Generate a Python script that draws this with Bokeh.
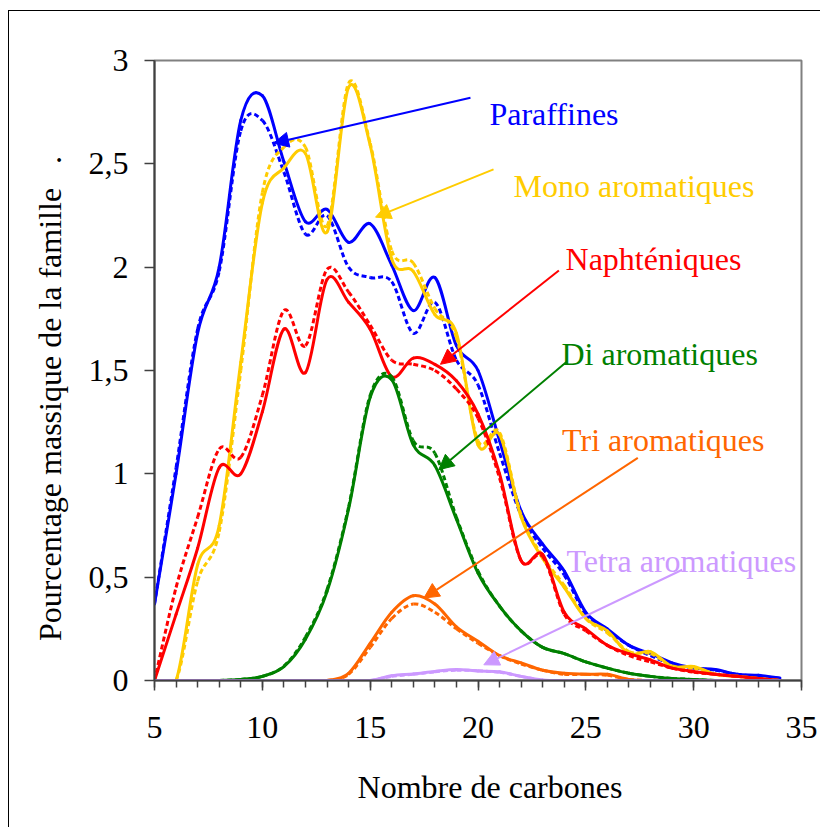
import math
from bokeh.plotting import figure
from bokeh.models import (Range1d, FixedTicker, CustomJSTickFormatter, Label, Arrow,
                          NormalHead, ColumnDataSource)
from bokeh.embed import file_html
from bokeh.resources import INLINE

# ---------------- data ----------------
carbons = list(range(5, 35))

paraffines = [0.37, 1.00, 1.68, 2.00, 2.71, 2.83, 2.51, 2.22, 2.28, 2.12, 2.21, 2.01, 1.79, 1.95, 1.62,
              1.50, 1.16, 0.82, 0.66, 0.53, 0.33, 0.25, 0.17, 0.13, 0.085, 0.06, 0.053, 0.03, 0.025, 0.012]
paraffines_b = [0.37, 1.03, 1.70, 1.98, 2.66, 2.71, 2.46, 2.16, 2.25, 2.00, 1.95, 1.93, 1.68, 1.83, 1.55,
                1.43, 1.10, 0.80, 0.64, 0.51, 0.32, 0.24, 0.17, 0.12, 0.08, 0.06, 0.05, 0.03, 0.02, 0.01]

mono = [0.0, 0.0, 0.56, 0.75, 1.54, 2.31, 2.48, 2.55, 2.17, 2.87, 2.59, 2.04, 1.98, 1.77, 1.68,
        1.14, 1.19, 0.79, 0.59, 0.45, 0.30, 0.24, 0.13, 0.14, 0.068, 0.068, 0.03, 0.02, 0.01, 0.0]
mono_b = [0.0, 0.0, 0.48, 0.72, 1.50, 2.36, 2.58, 2.58, 2.20, 2.89, 2.60, 2.08, 2.02, 1.80, 1.66,
          1.16, 1.20, 0.80, 0.60, 0.46, 0.30, 0.23, 0.14, 0.13, 0.07, 0.06, 0.03, 0.02, 0.01, 0.0]

naphteniques = [0.0, 0.32, 0.64, 1.03, 1.00, 1.30, 1.70, 1.49, 1.94, 1.83, 1.70, 1.47, 1.56, 1.53, 1.45,
                1.29, 1.00, 0.58, 0.61, 0.33, 0.25, 0.17, 0.13, 0.10, 0.06, 0.044, 0.03, 0.02, 0.01, 0.0]
naphteniques_b = [0.0, 0.45, 0.79, 1.12, 1.08, 1.38, 1.79, 1.62, 1.99, 1.88, 1.72, 1.55, 1.53, 1.50, 1.41,
                  1.27, 0.98, 0.58, 0.60, 0.32, 0.24, 0.17, 0.12, 0.09, 0.06, 0.04, 0.03, 0.02, 0.01, 0.0]

di = [0.0, 0.0, 0.0, 0.0, 0.005, 0.02, 0.067, 0.20, 0.43, 0.83, 1.37, 1.455, 1.14, 1.04, 0.78,
      0.52, 0.36, 0.24, 0.16, 0.13, 0.09, 0.06, 0.035, 0.02, 0.01, 0.005, 0.0, 0.0, 0.0, 0.0]
di_b = [0.0, 0.0, 0.0, 0.0, 0.005, 0.02, 0.07, 0.21, 0.44, 0.84, 1.38, 1.47, 1.16, 1.10, 0.79,
        0.53, 0.36, 0.24, 0.16, 0.13, 0.09, 0.06, 0.035, 0.02, 0.01, 0.005, 0.0, 0.0, 0.0, 0.0]

tri = [0.0, 0.0, 0.0, 0.0, 0.0, 0.0, 0.0, 0.0, 0.0, 0.035, 0.18, 0.33, 0.41, 0.37, 0.26,
       0.19, 0.12, 0.085, 0.05, 0.035, 0.03, 0.03, 0.005, 0.0, 0.0, 0.0, 0.0, 0.0, 0.0, 0.0]
tri_b = [0.0, 0.0, 0.0, 0.0, 0.0, 0.0, 0.0, 0.0, 0.0, 0.03, 0.16, 0.30, 0.37, 0.33, 0.25,
         0.18, 0.12, 0.08, 0.05, 0.03, 0.03, 0.025, 0.005, 0.0, 0.0, 0.0, 0.0, 0.0, 0.0, 0.0]

tetra = [0.0] * 11 + [0.023, 0.032, 0.044, 0.053, 0.046, 0.042, 0.02, 0.003] + [0.0] * 11
tetra_b = [0.0] * 11 + [0.02, 0.03, 0.042, 0.05, 0.047, 0.04, 0.02, 0.0] + [0.0] * 11

families = ["Paraffines", "Mono aromatiques", "Naphténiques", "Di aromatiques",
            "Tri aromatiques", "Tetra aromatiques"]
colors = ["#0000FF", "#FFCC00", "#FF0000", "#008000", "#FF6600", "#CC99FF"]
series_solid = [paraffines, mono, naphteniques, di, tri, tetra]
series_dash = [paraffines_b, mono_b, naphteniques_b, di_b, tri_b, tetra_b]

x_ticks = [5, 10, 15, 20, 25, 30, 35]
y_ticks = [0, 0.5, 1, 1.5, 2, 2.5, 3]

x_title = "Nombre de carbones"
y_title = "Pourcentage massique de la famille\u00a0\u00a0\u00a0."

FONT = "Liberation Serif"


def smooth(xs, ys):
    """Bezier segments through the points (Excel-style smoothed line)."""
    n = len(xs)
    d = dict(x0=[], y0=[], x1=[], y1=[], cx0=[], cy0=[], cx1=[], cy1=[])
    for i in range(n - 1):
        xp, yp = (xs[i - 1], ys[i - 1]) if i > 0 else (xs[i], ys[i])
        xn, yn = (xs[i + 2], ys[i + 2]) if i + 2 < n else (xs[i + 1], ys[i + 1])
        d["x0"].append(xs[i]); d["y0"].append(ys[i])
        d["x1"].append(xs[i + 1]); d["y1"].append(ys[i + 1])
        d["cx0"].append(xs[i] + (xs[i + 1] - xp) / 6.0)
        d["cy0"].append(ys[i] + (ys[i + 1] - yp) / 6.0)
        d["cx1"].append(xs[i + 1] - (xn - xs[i]) / 6.0)
        d["cy1"].append(ys[i + 1] - (yn - ys[i]) / 6.0)
    return ColumnDataSource(d)


p = figure(frame_width=647, frame_height=620,
           x_range=Range1d(5, 35), y_range=Range1d(0, 3),
           output_backend="svg", toolbar_location=None,
           min_border_left=145, min_border_right=19,
           min_border_top=49, min_border_bottom=147)
p.styles = {"border-left": "1px solid black", "border-top": "1px solid black",
            "margin-left": "8px", "margin-top": "10px"}
p.grid.visible = False
p.outline_line_color = "#808080"
p.outline_line_width = 2
p.background_fill_color = "white"
p.border_fill_color = "white"

for ax in (p.xaxis[0], p.yaxis[0]):
    ax.axis_line_color = "#404040"
    ax.axis_line_width = 2
    ax.major_tick_line_color = "#404040"
    ax.minor_tick_line_color = "#404040"
    ax.major_tick_line_width = 1.5
    ax.minor_tick_line_width = 1.5
    ax.major_tick_in = 0
    ax.major_tick_out = 10
    ax.minor_tick_in = 0
    ax.major_label_text_font = FONT
    ax.major_label_text_font_size = "32px"
    ax.major_label_text_color = "black"
    ax.axis_label_text_font = FONT
    ax.axis_label_text_font_size = "32px"
    ax.axis_label_text_font_style = "normal"
    ax.axis_label_text_color = "black"

p.xaxis.ticker = FixedTicker(ticks=x_ticks, minor_ticks=carbons + [35])
p.xaxis.minor_tick_out = 7
p.xaxis.major_label_standoff = 26
p.xaxis.axis_label = "\u00a0" * 3 + x_title
p.xaxis.axis_label_standoff = 28

p.yaxis.ticker = FixedTicker(ticks=y_ticks, minor_ticks=[])
p.yaxis.minor_tick_out = 0
p.yaxis.major_label_standoff = 16
p.yaxis.formatter = CustomJSTickFormatter(code="return String(tick).replace('.', ',');")
p.yaxis.axis_label = y_title + "\u00a0" * 7
p.yaxis.axis_label_standoff = 18

# curves
for sol, das, col in zip(series_solid, series_dash, colors):
    p.bezier(x0="x0", y0="y0", x1="x1", y1="y1", cx0="cx0", cy0="cy0", cx1="cx1", cy1="cy1",
             source=smooth(carbons, sol), line_color=col, line_width=3, line_cap="round",
             line_join="round")
    p.bezier(x0="x0", y0="y0", x1="x1", y1="y1", cx0="cx0", cy0="cy0", cx1="cx1", cy1="cy1",
             source=smooth(carbons, das), line_color=col, line_width=3, line_dash="5 3")

# annotations: (label x, label baseline y, arrow start x, y, arrow tip x, y) in data units
annots = [
    (20.53, 2.741, 19.65, 2.820, 10.52, 2.600),
    (21.65, 2.392, 20.72, 2.473, 15.25, 2.242),
    (24.06, 2.039, 23.75, 1.984, 18.26, 1.530),
    (23.87, 1.579, 24.10, 1.541, 18.18, 1.020),
    (23.90, 1.166, 27.41, 1.077, 17.49, 0.399),
    (24.10, 0.576, 29.47, 0.536, 20.27, 0.076),
]
for name, col, (lx, ly, ax0, ay0, ax1, ay1) in zip(families, colors, annots):
    p.add_layout(Arrow(end=NormalHead(size=15, fill_color=col, line_color=col, line_width=1),
                       x_start=ax0, y_start=ay0, x_end=ax1, y_end=ay1,
                       line_color=col, line_width=2))
    p.add_layout(Label(x=lx, y=ly, text=name, text_font=FONT, text_font_size="32px",
                       text_color=col, text_align="left", text_baseline="alphabetic"))

open("out.html", "w").write(file_html(p, INLINE))
